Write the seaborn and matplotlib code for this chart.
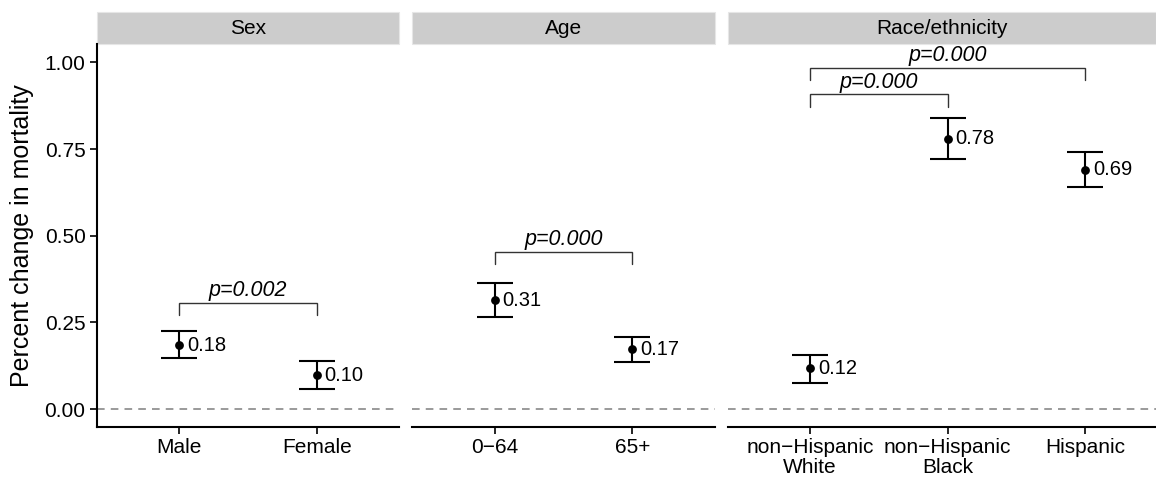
import matplotlib
matplotlib.use("Agg")
import matplotlib.pyplot as plt
from matplotlib.patches import Rectangle
import seaborn as sns

# data
groups = ["Sex", "Age", "Race/ethnicity"]

sex_cats = ["Male", "Female"]
sex_est = [0.184, 0.098]
sex_lo = [0.146, 0.058]
sex_hi = [0.224, 0.138]

age_cats = ["0\u221264", "65+"]
age_est = [0.314, 0.172]
age_lo = [0.265, 0.136]
age_hi = [0.363, 0.209]

race_cats = ["non\u2212Hispanic\nWhite", "non\u2212Hispanic\nBlack", "Hispanic"]
race_est = [0.117, 0.779, 0.690]
race_lo = [0.076, 0.720, 0.639]
race_hi = [0.156, 0.839, 0.740]

# comparison brackets: (from, to, height, p label)
sex_brackets = [(0, 1, 0.307, "p=0.002")]
age_brackets = [(0, 1, 0.454, "p=0.000")]
race_brackets = [(0, 1, 0.908, "p=0.000"), (0, 2, 0.985, "p=0.000")]

sns.set_style("white")
plt.rcParams["font.family"] = ["Liberation Sans", "DejaVu Sans"]
plt.rcParams.update({"text.color": "black", "axes.labelcolor": "black",
                     "xtick.color": "black", "ytick.color": "black"})

W, H = 1156, 478
fig = plt.figure(figsize=(W / 100, H / 100), dpi=100)

unit = 137.5  # px per category
top_px, bot_px = 44.3, 426.7
panels = [
    (96.7, 2.2, sex_cats, sex_est, sex_lo, sex_hi, sex_brackets),
    (412.3, 2.2, age_cats, age_est, age_lo, age_hi, age_brackets),
    (727.7, 3.115, race_cats, race_est, race_lo, race_hi, race_brackets),
]

for i, (left, span, cats, est, lo, hi, brackets) in enumerate(panels):
    w_px = span * unit
    ax = fig.add_axes([left / W, 1 - bot_px / H, w_px / W, (bot_px - top_px) / H])
    xs = list(range(len(cats)))

    ax.axhline(0, color="#7f7f7f", lw=1.1, ls=(0, (5, 4)), zorder=1)
    err_lo = [e - l for e, l in zip(est, lo)]
    err_hi = [h - e for e, h in zip(est, hi)]
    ax.errorbar(xs, est, yerr=[err_lo, err_hi], fmt="none", ecolor="black",
                elinewidth=1.5, capsize=13, capthick=1.5, zorder=2)
    sns.scatterplot(x=xs, y=est, ax=ax, color="black", s=40, edgecolor="black",
                    linewidth=0, zorder=3, legend=False)
    for x, e in zip(xs, est):
        ax.text(x + 0.055, e, f"{e:.2f}", ha="left", va="center", fontsize=14.5)

    for a, b, yb, lab in brackets:
        ax.plot([a, a, b, b], [yb - 0.037, yb, yb, yb - 0.037], color="#333333",
                lw=1.0, solid_joinstyle="miter")
        ax.text((a + b) / 2, yb + 0.035, lab, ha="center", va="center",
                fontsize=15.5, style="italic")

    ax.set_xlim(-0.6, -0.6 + span)
    ax.set_ylim(-0.051, 1.052)
    ax.set_xticks(xs)
    ax.set_xticklabels(cats, fontsize=15, linespacing=1.08)
    ax.tick_params(axis="x", length=5, width=1.2, pad=3, colors="black",
                   bottom=True)
    ax.set_xlabel("")

    for s in ["top", "right"]:
        ax.spines[s].set_visible(False)
    ax.spines["bottom"].set_linewidth(1.5)
    ax.spines["bottom"].set_color("black")
    if i == 0:
        ax.set_yticks([0, 0.25, 0.5, 0.75, 1.0])
        ax.set_yticklabels(["0.00", "0.25", "0.50", "0.75", "1.00"], fontsize=15)
        ax.tick_params(axis="y", length=5, width=1.2, pad=3, colors="black",
                       left=True)
        ax.spines["left"].set_linewidth(1.5)
        ax.spines["left"].set_color("black")
    else:
        ax.set_yticks([])
        ax.spines["left"].set_visible(False)

    # facet strip
    strip_h = 32 / (bot_px - top_px)
    ax.add_patch(Rectangle((0, 1), 1, strip_h, transform=ax.transAxes,
                           facecolor="#cccccc", edgecolor="#e6e6e6", lw=0.8,
                           clip_on=False))
    ax.text(0.5, 1 + strip_h / 2, groups[i], transform=ax.transAxes,
            ha="center", va="center", fontsize=15, color="black")

fig.text(22 / W, 1 - 236 / H, "Percent change in mortality", rotation=90,
         ha="center", va="center", fontsize=18)

fig.savefig("out.png", dpi=100)
